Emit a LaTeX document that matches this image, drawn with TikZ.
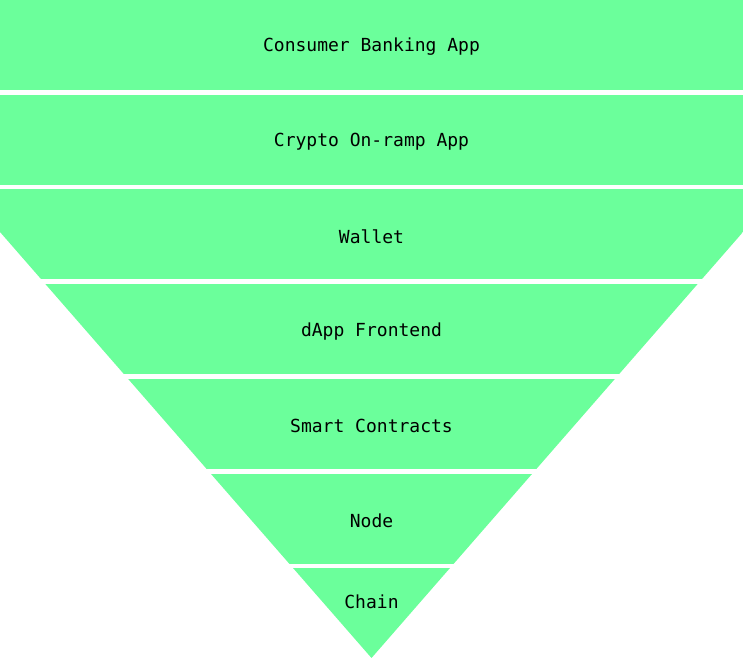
\documentclass[tikz,border=0pt]{standalone}
\usepackage{fontspec}
\setmonofont{DejaVu Sans Mono}
\definecolor{layergreen}{HTML}{6BFF9B}
\tikzset{
  layerlabel/.style={font=\ttfamily\fontsize{18}{20}\selectfont,text=black},
}
\begin{document}
\begin{tikzpicture}[x=1pt,y=-1pt]
                \useasboundingbox (0,0) rectangle (743,658);
                % funnel outline, bands are cut by it
                \begin{scope}
                    \clip (0,0) -- (743,0) -- (743,232) -- (371.5,658) -- (0,232) -- cycle;
                    \foreach \i in {0,...,6}
                        \fill[layergreen] (0,{\i*94.7}) rectangle (743,{\i*94.7+90});
                \end{scope}
                \node[layerlabel] (bank) at (371.5,46.5) {Consumer Banking App};
                \node[layerlabel] (onramp) at (371.5,141.5) {Crypto On-ramp App};
                \node[layerlabel] (wallet) at (371.5,236.5) {Wallet};
                \node[layerlabel] (dapp) at (371.5,331.5) {dApp Frontend};
                \node[layerlabel] (contracts) at (371.5,426) {Smart Contracts};
                \node[layerlabel] (node) at (371.5,520.5) {Node};
                \node[layerlabel] (chain) at (371.5,601.5) {Chain};
            \end{tikzpicture}
\end{document}
